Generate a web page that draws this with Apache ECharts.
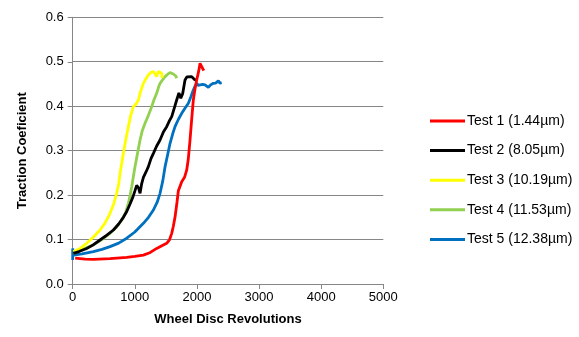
<!DOCTYPE html>
<html><head><meta charset="utf-8">
<script src="https://cdn.jsdelivr.net/npm/echarts@6/dist/echarts.min.js"></script>
<style>html,body{margin:0;padding:0;background:#fff}#c{width:579px;height:337px}</style>
</head><body><div id="c"></div>
<script>
const seriesNames = ['Test 1 (1.44\u00b5m)','Test 2 (8.05\u00b5m)','Test 3 (10.19\u00b5m)','Test 4 (11.53\u00b5m)','Test 5 (12.38\u00b5m)'];
const xTicks = [0,1000,2000,3000,4000,5000];
const yTicks = [0,0.1,0.2,0.3,0.4,0.5,0.6];
const test1 = [[40,0.058],[200,0.056],[333,0.0555],[600,0.057],[870,0.06],[1000,0.062],[1138,0.065],[1250,0.071],[1352,0.08],[1450,0.087],[1513,0.0915],[1560,0.1],[1594,0.114],[1620,0.13],[1647,0.15],[1680,0.185],[1701,0.21],[1755,0.23],[1800,0.24],[1835,0.256],[1860,0.28],[1889,0.324],[1915,0.37],[1942,0.414],[1970,0.44],[1996,0.459],[2030,0.48],[2050,0.4965],[2077,0.489],[2110,0.48]];
const test2 = [[10,0.069],[100,0.073],[225,0.08],[330,0.088],[440,0.099],[550,0.11],[655,0.1215],[740,0.135],[816,0.15],[870,0.163],[923,0.18],[970,0.196],[1003,0.21],[1030,0.222],[1060,0.216],[1084,0.204],[1111,0.226],[1138,0.24],[1180,0.252],[1218,0.264],[1260,0.282],[1299,0.294],[1350,0.31],[1406,0.324],[1460,0.342],[1513,0.354],[1560,0.368],[1594,0.3765],[1640,0.398],[1674,0.414],[1710,0.43],[1740,0.418],[1770,0.428],[1808,0.459],[1840,0.466],[1862,0.47],[1916,0.4665],[1969,0.459],[2007,0.46]];
const test3 = [[10,0.073],[120,0.08],[225,0.0915],[330,0.105],[440,0.1215],[520,0.137],[601,0.159],[660,0.18],[708,0.204],[740,0.225],[762,0.249],[790,0.272],[816,0.294],[855,0.325],[896,0.354],[935,0.38],[977,0.399],[1020,0.405],[1057,0.414],[1084,0.429],[1110,0.44],[1138,0.4515],[1180,0.462],[1218,0.47],[1260,0.476],[1299,0.478],[1330,0.472],[1352,0.4665],[1379,0.478],[1410,0.476],[1433,0.474],[1440,0.463]];
const test4 = [[10,0.069],[150,0.077],[333,0.088],[470,0.1],[601,0.114],[700,0.127],[789,0.144],[850,0.16],[896,0.1815],[925,0.2],[950,0.219],[975,0.24],[1003,0.264],[1045,0.295],[1084,0.324],[1120,0.345],[1164,0.3615],[1220,0.38],[1272,0.399],[1310,0.415],[1352,0.429],[1380,0.442],[1406,0.4515],[1450,0.46],[1487,0.4665],[1530,0.472],[1567,0.4755],[1620,0.4725],[1660,0.468],[1674,0.463]];
const test5 = [[0,0.054],[0,0.08],[10,0.065],[150,0.068],[333,0.073],[470,0.078],[601,0.084],[740,0.092],[870,0.103],[1000,0.117],[1138,0.1365],[1220,0.15],[1299,0.1665],[1360,0.184],[1406,0.204],[1450,0.232],[1487,0.264],[1530,0.292],[1567,0.3165],[1610,0.338],[1647,0.354],[1700,0.37],[1755,0.384],[1810,0.396],[1862,0.4065],[1900,0.42],[1942,0.4365],[1970,0.445],[1996,0.4515],[2020,0.447],[2050,0.444],[2090,0.449],[2130,0.448],[2160,0.446],[2184,0.4425],[2220,0.448],[2264,0.4515],[2300,0.452],[2345,0.457],[2370,0.452],[2398,0.453]];
const colors = ['#ff0000','#000000','#ffff00','#92d050','#0070c0'];
const datasets = [test1,test2,test3,test4,test5];

const chart = echarts.init(document.getElementById('c'), null, {renderer:'canvas'});
const font = 'Liberation Sans';
chart.setOption({
  animation:false,
  color: colors,
  grid:{left:72.7, right:195.7, top:17.3, bottom:53, containLabel:false},
  legend:{
    orient:'vertical', left:425, top:109, itemWidth:35, itemHeight:3, itemGap:15.6,
    icon:'rect',
    textStyle:{fontFamily:font, fontSize:14, color:'#000', lineHeight:14, padding:[0,0,0,-3]},
    data: seriesNames
  },
  xAxis:{
    type:'value', min:xTicks[0], max:xTicks[xTicks.length-1], interval:1000,
    name:'Wheel Disc Revolutions', nameLocation:'middle', nameGap:29,
    nameTextStyle:{fontFamily:font, fontSize:13, fontWeight:'bold', color:'#000'},
    axisLine:{show:true, lineStyle:{color:'#868686', width:1}},
    axisTick:{show:true, length:5, lineStyle:{color:'#868686'}},
    axisLabel:{fontFamily:font, fontSize:13, color:'#000', margin:7, formatter:v=>String(v)},
    splitLine:{show:false}
  },
  yAxis:{
    type:'value', min:yTicks[0], max:yTicks[yTicks.length-1], interval:0.1,
    name:'Traction Coeficient', nameLocation:'middle', nameGap:44, nameRotate:90,
    nameTextStyle:{fontFamily:font, fontSize:13, fontWeight:'bold', color:'#000'},
    axisLine:{show:true, lineStyle:{color:'#868686', width:1}},
    axisTick:{show:true, length:5, lineStyle:{color:'#868686'}},
    axisLabel:{fontFamily:font, fontSize:13, color:'#000', margin:9, formatter:v=>v.toFixed(1)},
    splitLine:{show:true, lineStyle:{color:'#868686', width:1}}
  },
  series: datasets.map((d,i)=>({
    name: seriesNames[i], type:'line', data:d, showSymbol:false, symbol:'none',
    lineStyle:{width:2.8, color:colors[i]}, itemStyle:{color:colors[i]}, z: 10-i
  }))
});
</script></body></html>
